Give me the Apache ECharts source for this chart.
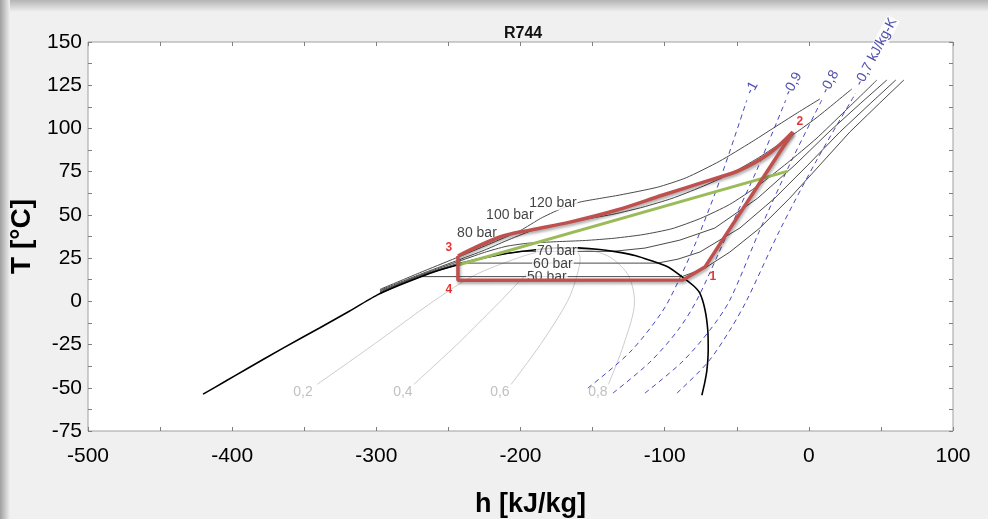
<!DOCTYPE html>
<html><head><meta charset="utf-8">
<script src="https://cdn.jsdelivr.net/npm/echarts@6/dist/echarts.min.js"></script>
<style>html,body{margin:0;padding:0;background:#f0f0f0;overflow:hidden}#c{width:988px;height:519px}</style>
</head><body><div id="c"></div>
<script>
// ---- axes ----
const xMin = -500, xMax = 100, xStep = 100;
const yMin = -75, yMax = 150, yStep = 25;

// ---- saturation dome (h [kJ/kg], T [°C]) ----
const dome = [[-420.2,-53.7],[-405,-46.4],[-389.7,-39.0],[-365,-27.2],[-339.1,-15.3],[-320,-6.3],[-299.6,3.6],[-285,9.0],[-270,14.0],[-257,17.8],[-244,21.0],[-230,24.2],[-216,26.7],[-200,28.8],[-185,30.3],[-173,31.0],[-160,30.9],[-145,30.0],[-133.2,28.6],[-120,26.4],[-110.3,23.8],[-98,20.0],[-89.5,15.2],[-80,9.0],[-75.6,4.7],[-72,-5],[-70.1,-16.7],[-69.8,-28],[-70.7,-39.8],[-72.2,-47],[-74.2,-54.3]];

// ---- isobars ----
const p50 = [[-297.5,4.4],[-285,9.2],[-269,14.3],[-88,14.3],[-72.1,19.2],[-54.8,28.5],[-34.0,42.4],[-13.2,59.7],[7.6,78.8],[28.4,97.9],[49.2,114.7],[65.9,128.0]];
const p60 = [[-297.5,4.9],[-285,9.6],[-265,16.0],[-239,22.1],[-105,22.1],[-90.8,24.4],[-75.6,28.5],[-47.8,42.4],[-23.6,59.7],[-0.7,78.8],[21.5,97.9],[43.0,114.7],[60.3,128.0]];
const p70 = [[-297.5,5.4],[-270,14.8],[-245,21.6],[-222,26.2],[-199,28.9],[-136,28.9],[-113.7,30.8],[-89.5,35.4],[-65.2,42.4],[-35.4,59.7],[-9.7,78.8],[13.9,97.9],[36.1,114.7],[54.1,128.0]];
const p80 = [[-297.5,5.9],[-270,15.0],[-245,22.5],[-225,28.3],[-210,31.8],[-195,33.6],[-175,34.5],[-155,35.2],[-135,36.5],[-115,38.6],[-95,42],[-75,48],[-55,56],[-35,67],[-15,80],[5,94],[25,110],[47.2,128.0]];
const p100 = [[-297.5,6.4],[-270,15.5],[-245,23.3],[-225,29.6],[-210,35],[-193,40.6],[-175,44.5],[-155,47.5],[-135,50.5],[-115,54.5],[-95,59.5],[-75,66],[-55,73.5],[-35,83],[-15,94],[5,106],[29.8,122.8]];
const p120 = [[-297.5,6.9],[-270,16.5],[-245,25],[-222,33],[-200,41],[-186,48],[-172,53.5],[-158.8,57.4],[-145,59.5],[-131.1,61.5],[-105,66],[-85,71.5],[-62,81],[-40,92],[-25,100],[-8,109],[7.6,117.0]];
const isobarLabels = [[-181.7,14.0,'50 bar'],[-177.5,21.5,'60 bar'],[-174.8,29.1,'70 bar'],[-230.2,39.5,'80 bar'],[-207.4,49.9,'100 bar'],[-177.5,56.8,'120 bar']];

// ---- isentropes (kJ/kg-K) ----
const s100 = [[-153.3,-50.2],[-124.1,-29.4],[-101.9,-6.2],[-90.8,11.1],[-77.7,35.4],[-61.7,70.1],[-43.0,116.4]];
const s090 = [[-135.9,-53.1],[-110.3,-35.2],[-90.8,-16.7],[-77.7,0.7],[-56.9,38.3],[-36.1,75.9],[-16.0,116.4]];
const s080 = [[-113.7,-53.1],[-88.1,-35.2],[-68.7,-16.7],[-54.8,0.7],[-34.0,41.2],[-11.8,81.7],[9.0,116.4]];
const s070 = [[-91.5,-53.1],[-70.0,-35.2],[-54.8,-16.7],[-43.0,0.7],[-20.1,41.2],[5.5,81.7],[32.6,120.5]];
const entropyLabels = [[-39.5,123.4,'-1'],[-11.1,125.7,'-0,9'],[14.6,126.9,'-0,8'],[46.5,144.2,'-0,7 kJ/kg-K']];

// ---- quality lines ----
const q02 = [[-173,31],[-185.8,29],[-202.2,25],[-232.1,15],[-260.5,0],[-301.9,-25],[-341,-48]];
const q04 = [[-173,31],[-173.6,29],[-180.4,25],[-196.5,15],[-214,0],[-244.1,-25],[-274,-48]];
const q06 = [[-173,31],[-161.4,29],[-158.6,25],[-160.8,15],[-167.4,0],[-186.2,-25],[-206.5,-48]];
const q08 = [[-173,31],[-149.2,29],[-136.8,25],[-125.2,15],[-120.9,0],[-128.4,-25],[-139,-48]];
const qualityLabels = [[-350.9,-52.5,'0,2'],[-281.6,-52.5,'0,4'],[-214.3,-52.5,'0,6'],[-146.3,-52.5,'0,8']];

// ---- cycle (4 -> 3 -> gas cooler -> 2 -> 1 -> 4) ----
const cycleUpper = [[-243.4,26.2],[-214.3,37.2],[-193.5,41.2],[-165.7,45.8],[-133.1,52.8],[-101.2,61.5],[-68.7,70.1],[-47.8,75.9],[-27.0,85.8],[-11.1,97.9]];
const cycleRest = [[-11.1,97.9],[-72.1,19.8],[-87.4,12.3],[-243.4,12.2],[-243.4,26.2]];
const greenLine = [[-243.4,21.0],[-14.6,75.3]];
const pointLabels = [[-66.6,14.4,'1'],[-6.2,103.7,'2'],[-249.7,30.8,'3'],[-249.7,6.5,'4']];

const FONT = 'Liberation Sans, Arial, Helvetica, sans-serif';
function line(data, color, width, z, extra) {
  return Object.assign({type:'line', data, symbol:'none', silent:true, z,
    lineStyle:{color, width}, animation:false}, extra||{});
}
function labels(data, style, z) {
  return {type:'scatter', data, symbolSize:1, itemStyle:{color:'transparent'}, silent:true, z, animation:false,
    label:Object.assign({show:true, position:'inside', formatter:p=>p.data[2], fontFamily:FONT}, style)};
}
const isoColor = '#4a4a4a';
const sColor = '#4848c0';
const qColor = '#cdcdcd';
const tickStyle = {show:true, inside:true, length:4, lineStyle:{color:'#808080'}};
const minorStyle = {show:true, splitNumber:2, length:4, lineStyle:{color:'#808080'}};
const noLine = {show:false, onZero:false};
const redStyle = {color:'#c0504d', width:3.5, shadowColor:'rgba(0,0,0,0.35)', shadowBlur:3, shadowOffsetX:1, shadowOffsetY:2};

const chart = echarts.init(document.getElementById('c'), null, {renderer:'canvas'});
chart.setOption({
  animation:false,
  backgroundColor:'#f0f0f0',
  title:{text:'R744', left:499, top:21, textStyle:{fontSize:16, fontWeight:'bold', color:'#111', fontFamily:FONT}},
  graphic:[
    {type:'rect', shape:{x:0,y:0,width:988,height:12}, silent:true, z:-1,
     style:{fill:new echarts.graphic.LinearGradient(0,0,0,1,[{offset:0,color:'#b4b4b4'},{offset:1,color:'#f0f0f0'}])}},
    {type:'rect', shape:{x:0,y:0,width:10,height:519}, silent:true, z:-1,
     style:{fill:new echarts.graphic.LinearGradient(0,0,1,0,[{offset:0,color:'#a0a0a0'},{offset:1,color:'#f0f0f0'}])}}
  ],
  grid:{left:88, right:35, top:42, bottom:88, show:true, backgroundColor:'#ffffff', borderColor:'#a0a0a0', borderWidth:1,
        containLabel:false, outerBoundsMode:'none'},
  xAxis:[
    {type:'value', min:xMin, max:xMax, interval:xStep, position:'bottom',
     axisLine:noLine, axisTick:tickStyle, minorTick:minorStyle, splitLine:{show:false},
     axisLabel:{fontSize:21, color:'#000', margin:15, fontFamily:FONT},
     name:'h [kJ/kg]', nameLocation:'middle', nameGap:60,
     nameTextStyle:{fontSize:27, fontWeight:'bold', color:'#000', fontFamily:FONT, padding:[0,0,0,20]}},
    {type:'value', min:xMin, max:xMax, interval:xStep, position:'top',
     axisLine:noLine, axisTick:tickStyle, minorTick:minorStyle, splitLine:{show:false}, axisLabel:{show:false}}
  ],
  yAxis:[
    {type:'value', min:yMin, max:yMax, interval:yStep, position:'left',
     axisLine:noLine, axisTick:tickStyle, minorTick:minorStyle, splitLine:{show:false},
     axisLabel:{fontSize:21, color:'#000', margin:6, fontFamily:FONT},
     name:'T [°C]', nameLocation:'middle', nameGap:50, nameRotate:90,
     nameTextStyle:{fontSize:28, fontWeight:'bold', color:'#000', fontFamily:FONT}},
    {type:'value', min:yMin, max:yMax, interval:yStep, position:'right',
     axisLine:noLine, axisTick:tickStyle, minorTick:minorStyle, splitLine:{show:false}, axisLabel:{show:false}}
  ],
  series:[
    line(q02, qColor, 1, 1, {smooth:0.3}),
    line(q04, qColor, 1, 1, {smooth:0.3}),
    line(q06, qColor, 1, 1, {smooth:0.3}),
    line(q08, qColor, 1, 1, {smooth:0.3}),
    line(s100, sColor, 1, 2, {lineStyle:{color:sColor, width:1, type:[5,4]}, smooth:0.3}),
    line(s090, sColor, 1, 2, {lineStyle:{color:sColor, width:1, type:[5,4]}, smooth:0.3}),
    line(s080, sColor, 1, 2, {lineStyle:{color:sColor, width:1, type:[5,4]}, smooth:0.3}),
    line(s070, sColor, 1, 2, {lineStyle:{color:sColor, width:1, type:[5,4]}, smooth:0.3}),
    line(p50, isoColor, 1, 3),
    line(p60, isoColor, 1, 3),
    line(p70, isoColor, 1, 3),
    line(p80, isoColor, 1, 3, {smooth:0.2}),
    line(p100, isoColor, 1, 3, {smooth:0.2}),
    line(p120, isoColor, 1, 3, {smooth:0.2}),
    line(dome, '#000', 1.6, 4, {smooth:0.2}),
    labels(isobarLabels, {fontSize:14, color:'#111', backgroundColor:'#fff', padding:[0,1]}, 5),
    labels(qualityLabels, {fontSize:14, color:'#b0b0b0'}, 5),
    labels(entropyLabels, {fontSize:14, color:'#22229a', rotate:62, backgroundColor:'#fff', padding:[0,1]}, 5),
    line(greenLine, '#9bbb59', 3, 7),
    line(cycleUpper, '#c0504d', 3.5, 8, {lineStyle:redStyle, smooth:0.35}),
    line(cycleRest, '#c0504d', 3.5, 8, {lineStyle:redStyle}),
    labels(pointLabels, {fontSize:12, fontWeight:'bold', color:'#e00000'}, 9)
  ]
});
</script></body></html>
